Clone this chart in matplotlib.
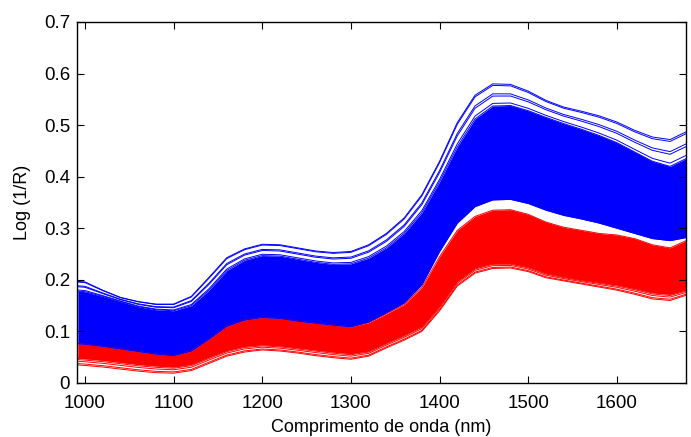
import matplotlib
matplotlib.use("Agg")
import matplotlib.pyplot as plt
import numpy as np

plt.rcParams['font.family'] = ['Liberation Sans', 'DejaVu Sans']

# wavelength grid (nm)
wl = [992, 1000, 1020, 1040, 1060, 1080, 1100, 1120, 1140, 1160, 1180, 1200,
      1220, 1240, 1260, 1280, 1300, 1320, 1340, 1360, 1380, 1400, 1420, 1440,
      1460, 1480, 1500, 1520, 1540, 1560, 1580, 1600, 1620, 1640, 1660, 1678]

# blue group: outlier top spectrum, top of dense band, bottom of band
blue_out = [0.197, 0.196, 0.180, 0.166, 0.158, 0.153, 0.153, 0.168, 0.205, 0.243, 0.260, 0.269,
            0.268, 0.262, 0.256, 0.253, 0.255, 0.268, 0.290, 0.320, 0.365, 0.430, 0.505, 0.558,
            0.580, 0.579, 0.566, 0.548, 0.535, 0.527, 0.518, 0.506, 0.490, 0.477, 0.472, 0.487]
blue_hi = [0.178, 0.177, 0.168, 0.158, 0.148, 0.142, 0.140, 0.150, 0.180, 0.218, 0.238, 0.247,
           0.246, 0.240, 0.234, 0.230, 0.231, 0.242, 0.262, 0.290, 0.330, 0.390, 0.458, 0.512,
           0.537, 0.538, 0.528, 0.515, 0.503, 0.492, 0.480, 0.466, 0.448, 0.430, 0.420, 0.435]
blue_lo = [0.076, 0.075, 0.071, 0.066, 0.061, 0.056, 0.053, 0.062, 0.085, 0.110, 0.122, 0.127,
           0.125, 0.120, 0.116, 0.112, 0.109, 0.118, 0.136, 0.155, 0.190, 0.255, 0.310, 0.342,
           0.355, 0.356, 0.348, 0.335, 0.325, 0.318, 0.310, 0.300, 0.290, 0.280, 0.276, 0.282]

# red group: top of band, bottom of dense band, lowest spectrum
red_hi = [0.076, 0.075, 0.071, 0.066, 0.061, 0.056, 0.053, 0.062, 0.085, 0.110, 0.122, 0.127,
          0.125, 0.120, 0.116, 0.112, 0.109, 0.117, 0.134, 0.152, 0.185, 0.245, 0.296, 0.323,
          0.335, 0.336, 0.327, 0.312, 0.302, 0.296, 0.290, 0.287, 0.280, 0.268, 0.262, 0.276]
red_lo = [0.048, 0.047, 0.044, 0.040, 0.036, 0.033, 0.031, 0.036, 0.050, 0.063, 0.071, 0.074,
          0.072, 0.068, 0.064, 0.060, 0.057, 0.062, 0.078, 0.093, 0.110, 0.150, 0.198, 0.223,
          0.232, 0.232, 0.225, 0.213, 0.206, 0.200, 0.195, 0.190, 0.183, 0.175, 0.172, 0.180]
red_out = [0.035, 0.034, 0.031, 0.027, 0.023, 0.020, 0.019, 0.024, 0.038, 0.052, 0.060, 0.064,
           0.062, 0.058, 0.053, 0.049, 0.046, 0.052, 0.068, 0.083, 0.100, 0.140, 0.188, 0.213,
           0.222, 0.223, 0.216, 0.204, 0.198, 0.192, 0.186, 0.180, 0.172, 0.163, 0.160, 0.170]

# mixing fractions for the individually visible edge spectra
blue_edge_mix = [1.0, 0.93, 0.55, 0.45, 0.12, 0.0]
red_edge_mix = [1.0, 0.8, 0.45, 0.2, 0.0]

x_ticks = [1000, 1100, 1200, 1300, 1400, 1500, 1600]
y_ticks = [0, 0.1, 0.2, 0.3, 0.4, 0.5, 0.6, 0.7]

wl = np.array(wl)
bo, bh, bl = np.array(blue_out), np.array(blue_hi), np.array(blue_lo)
rh, rl, ro = np.array(red_hi), np.array(red_lo), np.array(red_out)

fig = plt.figure(figsize=(6.91, 4.37), dpi=100)
ax = fig.add_axes([0.1114, 0.1236, 0.8814, 0.8261])

BLUE = '#0000ff'
RED = '#ff0000'

# dense cores
ax.fill_between(wl, rl, rh, color=RED, lw=0)
ax.fill_between(wl, bl, bh, color=BLUE, lw=0)

# individual spectra at the edges
for m in red_edge_mix:
    ax.plot(wl, rl + m * (ro - rl), color=RED, lw=0.7)
ax.plot(wl, rh, color=RED, lw=0.7)
for m in blue_edge_mix:
    ax.plot(wl, bh + m * (bo - bh), color=BLUE, lw=0.7)
ax.plot(wl, bl, color=BLUE, lw=0.7)

ax.set_xlim(991, 1678)
ax.set_ylim(0, 0.7)
ax.set_xticks(x_ticks)
ax.set_yticks(y_ticks)
ax.set_yticklabels(['0', '0.1', '0.2', '0.3', '0.4', '0.5', '0.6', '0.7'])
ax.tick_params(direction='in', top=True, right=True, length=5, width=0.8,
               labelsize=13.5)
ax.tick_params(axis='x', pad=9)
ax.tick_params(axis='y', pad=5)
for s in ax.spines.values():
    s.set_linewidth(1.0)

ax.set_xlabel('Comprimento de onda (nm)', fontsize=13, labelpad=5)
ax.set_ylabel('Log (1/R)', fontsize=13, labelpad=9)

fig.savefig('out.png', dpi=100)
